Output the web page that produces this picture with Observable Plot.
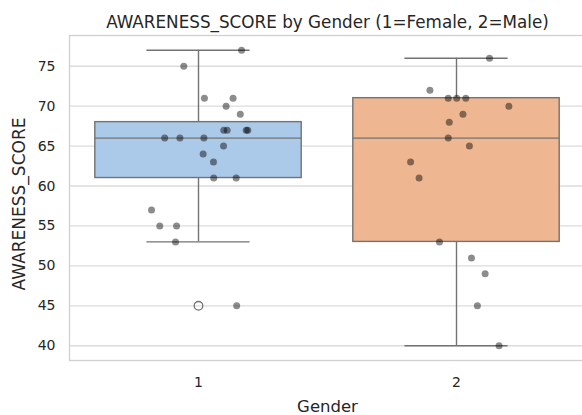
<!DOCTYPE html>
<html>
<head>
<meta charset="utf-8">
<script src="https://cdn.jsdelivr.net/npm/d3@7"></script>
<script src="https://cdn.jsdelivr.net/npm/@observablehq/plot@0.6"></script>
<style>
  html, body { margin: 0; padding: 0; background: #fff; overflow: hidden; }
  svg { display: block; }
</style>
</head>
<body>
<div id="chart"></div>
<script>
// ---- data ----
const genders = [1, 2];
const genderColors = ["#abc9e9", "#efb791"];
const femaleScores = [77, 75, 71, 71, 70, 69, 67, 67, 67, 67, 66, 66, 66, 65, 64, 63, 61, 61, 57, 55, 55, 53, 45];
const femaleJitter = [0.167, -0.057, 0.023, 0.134, 0.107, 0.162, 0.098, 0.111, 0.185, 0.191, -0.131, -0.072, 0.021, 0.097, 0.018, 0.058, 0.059, 0.146, -0.182, -0.150, -0.085, -0.089, 0.148];
const maleScores = [76, 72, 71, 71, 71, 70, 69, 68, 66, 65, 63, 61, 53, 51, 49, 45, 40];
const maleJitter = [0.128, -0.103, -0.032, 0.001, 0.036, 0.203, 0.025, -0.028, -0.032, 0.050, -0.178, -0.145, -0.066, 0.058, 0.111, 0.081, 0.165];
const yTicks = [40, 45, 50, 55, 60, 65, 70, 75];
const titleText = "AWARENESS_SCORE by Gender (1=Female, 2=Male)";
const xLabel = "Gender";
const yLabel = "AWARENESS_SCORE";

// ---- derived tables ----
const groups = [
  {g: 1, scores: femaleScores, jitter: femaleJitter, color: genderColors[0]},
  {g: 2, scores: maleScores, jitter: maleJitter, color: genderColors[1]}
];
const points = groups.flatMap(G => G.scores.map((v, i) => ({g: G.g, x: G.g + G.jitter[i], v})));
const stats = groups.map(G => {
  const s = G.scores.slice().sort(d3.ascending);
  const q1 = d3.quantile(s, 0.25), q3 = d3.quantile(s, 0.75), med = d3.quantile(s, 0.5);
  const iqr = q3 - q1;
  const lo = d3.min(s.filter(v => v >= q1 - 1.5 * iqr));
  const hi = d3.max(s.filter(v => v <= q3 + 1.5 * iqr));
  const outliers = s.filter(v => v < lo || v > hi);
  return {g: G.g, color: G.color, q1, q3, med, lo, hi, outliers};
});
const outlierPts = stats.flatMap(S => S.outliers.map(v => ({g: S.g, v})));

const lineColor = "#737373";
const font = "DejaVu Sans, sans-serif";
const bw = 0.4, cw = 0.2;

const chart = Plot.plot({
  width: 582,
  height: 415,
  marginTop: 35,
  marginBottom: 55,
  marginLeft: 69,
  marginRight: -3,
  style: {fontFamily: font, color: "#262626", background: "#fff", overflow: "hidden"},
  x: {domain: [0.5, 2.5]},
  y: {domain: [38.15, 78.85]},
  marks: [
    Plot.ruleY(yTicks, {stroke: "#dcdcdc", strokeWidth: 1.3}),
    Plot.frame({stroke: "#d0d0d0", strokeWidth: 1.3}),
    // whiskers
    Plot.ruleX(stats, {x: "g", y1: "q3", y2: "hi", stroke: lineColor, strokeWidth: 1.4}),
    Plot.ruleX(stats, {x: "g", y1: "q1", y2: "lo", stroke: lineColor, strokeWidth: 1.4}),
    Plot.ruleY(stats, {y: "hi", x1: d => d.g - cw, x2: d => d.g + cw, stroke: lineColor, strokeWidth: 1.4}),
    Plot.ruleY(stats, {y: "lo", x1: d => d.g - cw, x2: d => d.g + cw, stroke: lineColor, strokeWidth: 1.4}),
    // boxes
    Plot.rect(stats, {x1: d => d.g - bw, x2: d => d.g + bw, y1: "q1", y2: "q3", fill: "color", stroke: lineColor, strokeWidth: 1.4}),
    Plot.ruleY(stats, {y: "med", x1: d => d.g - bw, x2: d => d.g + bw, stroke: lineColor, strokeWidth: 1.4}),
    // outliers
    Plot.dot(outlierPts, {x: "g", y: "v", r: 4.3, fill: "none", stroke: lineColor, strokeWidth: 1.3}),
    // strip points
    Plot.dot(points, {x: "x", y: "v", r: 3.5, fill: "black", fillOpacity: 0.45, stroke: "none"}),
    // axes
    Plot.axisY(yTicks, {tickSize: 0, tickPadding: 14, fontSize: 14, label: null, fill: "#262626"}),
    Plot.axisX(genders, {tickSize: 0, tickPadding: 17, fontSize: 14, label: null, fill: "#262626", tickFormat: d => String(d)}),
    // labels
    Plot.text([titleText], {frameAnchor: "top", dy: -13, fontSize: 16.8, fill: "#262626", lineAnchor: "middle", textAnchor: "middle"}),
    Plot.text([xLabel], {frameAnchor: "bottom", dy: 46, fontSize: 16.5, fill: "#262626", lineAnchor: "middle", textAnchor: "middle"}),
    Plot.text([yLabel], {frameAnchor: "left", dx: -50, dy: 6, rotate: -90, fontSize: 17, fill: "#262626", lineAnchor: "middle", textAnchor: "middle"})
  ]
});
document.getElementById("chart").appendChild(chart);
</script>
</body>
</html>
